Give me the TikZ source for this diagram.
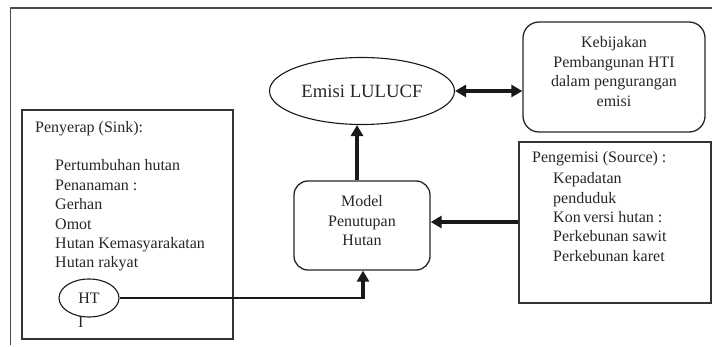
\documentclass[tikz,border=0pt]{standalone}
\usepackage{fontspec}
\setmainfont{Liberation Serif}
\usetikzlibrary{arrows.meta,shapes.geometric}
\begin{document}
\begin{tikzpicture}[x=1pt,y=-1pt,
  every node/.style={text=black!85},
  fnt/.style={font=\fontsize{16}{19.4}\selectfont},
  txt/.style={fnt,anchor=base west,inner sep=0},
  ctxt/.style={fnt,anchor=base,inner sep=0},
  sqbox/.style={draw=black!80,line width=1.3pt,inner sep=0},
  rbox/.style={draw=black!85,line width=1.3pt,rounded corners=14pt,inner sep=0},
  oval/.style={ellipse,draw=black!90,line width=1.1pt,inner sep=0},
  arr/.style={draw=black!90,line width=3.1pt,-{Triangle[length=11pt,width=12pt]}},
  darr/.style={draw=black!90,line width=3.1pt,{Triangle[length=11pt,width=12pt]}-{Triangle[length=11pt,width=12pt]}},
  thinline/.style={draw=black!90,line width=1.1pt},
  frame/.style={draw=black!70,line width=1.6pt}]
\useasboundingbox (0,0) rectangle (712,347);
% outer frame (only left and top edges visible)
\draw[frame] (10.5,345) -- (10.5,8) -- (712,8);

% Emisi LULUCF
\node[oval,minimum width=185pt,minimum height=67pt,font=\fontsize{18.7}{22}\selectfont] (emisi) at (362,91) {Emisi LULUCF};

% Kebijakan box
\node[rbox,rounded corners=16pt,minimum width=182pt,minimum height=110pt] (keb) at (614,77) {};
\node[ctxt] (k1) at (614,48) {Kebijakan};
\node[ctxt] (k2) at (614,67.5) {Pembangunan HTI};
\node[ctxt] (k3) at (614,87) {dalam pengurangan};
\node[ctxt] (k4) at (614,106.5) {emisi};

% Model box
\node[rbox,minimum width=136pt,minimum height=89pt] (model) at (362,225.5) {};
\node[ctxt] (m1) at (362,207) {Model};
\node[ctxt] (m2) at (362,226.5) {Penutupan};
\node[ctxt] (m3) at (362,246) {Hutan};

% Penyerap box
\node[sqbox,minimum width=211pt,minimum height=229pt] (sink) at (127.5,224.5) {};
\node[txt] (s0) at (35,133) {Penyerap (Sink):};
\foreach \t [count=\i] in {Pertumbuhan hutan,Penanaman :,Gerhan,Omot,Hutan Kemasyarakatan,Hutan rakyat}
  \node[txt] (s\i) at (55,{171+19.4*(\i-1)}) {\t};
\node[oval,fnt,minimum width=60pt,minimum height=38pt] (ht) at (89,298) {HT};
\node[txt] (hti) at (78,327.5) {I};

% Pengemisi box
\node[sqbox,minimum width=192pt,minimum height=161pt] (peng) at (615,222.5) {};
\node[txt] (p0) at (532,163) {Pengemisi (Source) :};
\foreach \t [count=\i] in {Kepadatan,penduduk,Kon\hspace{2.5pt}versi hutan :,Perkebunan sawit,Perkebunan karet}
  \node[txt] (p\i) at (553,{184+19.3*(\i-1)}) {\t};

% connectors
\draw[darr] (emisi.east) -- (emisi.east -| keb.west);
\draw[arr] ([xshift=-5pt]model.north) -- ([xshift=-5pt]emisi.south);
\draw[arr] (peng.west |- 0,222) -- (model.east |- 0,222);
\coordinate (bend) at ([xshift=1pt]ht.east -| model.south);
\draw[thinline] (ht.east) -- ([xshift=1.5pt]bend);
\draw[arr] (bend) -- (bend |- model.south);
\end{tikzpicture}
\end{document}
